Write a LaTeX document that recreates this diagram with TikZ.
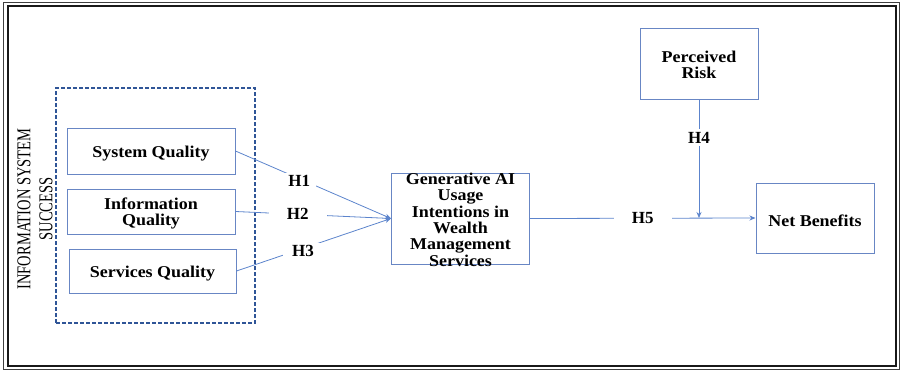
\documentclass[tikz,border=0pt]{standalone}
\usepackage{fontspec}
\setmainfont{Liberation Serif}
\usetikzlibrary{arrows.meta}
\definecolor{boxblue}{RGB}{104,134,196}
\definecolor{lineblue}{RGB}{92,132,204}
\definecolor{dashblue}{RGB}{47,85,151}
\tikzset{
  box/.style={draw=boxblue, line width=1pt, inner sep=0pt},
  txt/.style={font=\bfseries\fontsize{16.5}{16.3}\selectfont, align=center, inner sep=0pt, yshift=-2.5pt},
  conn/.style={draw=lineblue, line width=0.8pt},
  arr/.style={conn, -{Stealth[length=6pt,width=5pt]}},
  hlab/.style={font=\bfseries\fontsize{17}{17}\selectfont, fill=white, inner ysep=3pt},
}
\newcommand{\wide}[1]{\scalebox{1.09}[1]{#1}}
\begin{document}
\begin{tikzpicture}[x=1pt,y=-1pt]
\useasboundingbox (0,0) rectangle (900,370);
% frame
\draw[line width=1pt, black!75] (3,2) rectangle (899,369);
\draw[line width=2pt, black!90] (7.5,5.5) rectangle (896,366);
% dashed group
\node[draw=dashblue, dashed, line width=1.6pt, dash pattern=on 4pt off 2pt, minimum width=199pt, minimum height=235pt, inner sep=0pt] (grp) at (155.5,205.5) {};
\node[rotate=90, inner sep=0pt] (iss) at (35,209) {\scalebox{1}[1.35]{\parbox{200pt}{\centering\fontsize{14.5}{16.3}\selectfont INFORMATION SYSTEM\\SUCCESS}}};
% boxes
\node[box, minimum width=168pt, minimum height=46pt] (sys) at (151,151) {};
\node[txt] at (sys) {\wide{System Quality}};
\node[box, minimum width=168pt, minimum height=45pt] (inf) at (151,211.5) {};
\node[txt] at (inf) {\wide{\begin{tabular}{@{}c@{}}Information\\Quality\end{tabular}}};
\node[box, minimum width=167pt, minimum height=44pt] (ser) at (152.5,271) {};
\node[txt] at (ser) {\wide{Services Quality}};
\node[box, minimum width=138pt, minimum height=91pt] (gen) at (460.5,218.5) {};
\node[txt] at (460.5,219.5) {\wide{\begin{tabular}{@{}c@{}}Generative AI\\Usage\\Intentions in\\Wealth\\Management\\Services\end{tabular}}};
\node[box, minimum width=118pt, minimum height=71pt] (pr) at (699,63.5) {};
\node[txt, yshift=-1pt] at (pr) {\wide{\begin{tabular}{@{}c@{}}Perceived\\Risk\end{tabular}}};
\node[box, minimum width=118pt, minimum height=70pt] (nb) at (815,218) {};
\node[txt] at (nb) {\wide{Net Benefits}};
% connectors
\draw[arr] (sys.east) -- node[hlab, pos=0.41, inner xsep=6pt, yshift=-2.5pt] {H1} (gen.west);
\draw[arr] (inf.east) -- node[hlab, pos=0.40, inner xsep=18pt] {H2} (gen.west);
\draw[arr] (ser.east) -- node[hlab, pos=0.43, inner xsep=9pt, yshift=-3pt] {H3} (gen.west);
\draw[arr] (gen.east) -- node[hlab, pos=0.5, inner xsep=18pt] {H5} (nb.west);
\coordinate (meet) at (pr.south |- nb.west);
\draw[arr] (pr.south) -- node[hlab, pos=0.31, inner xsep=2pt, inner ysep=3pt, yshift=-1.5pt] {H4} (meet);
\end{tikzpicture}
\end{document}
